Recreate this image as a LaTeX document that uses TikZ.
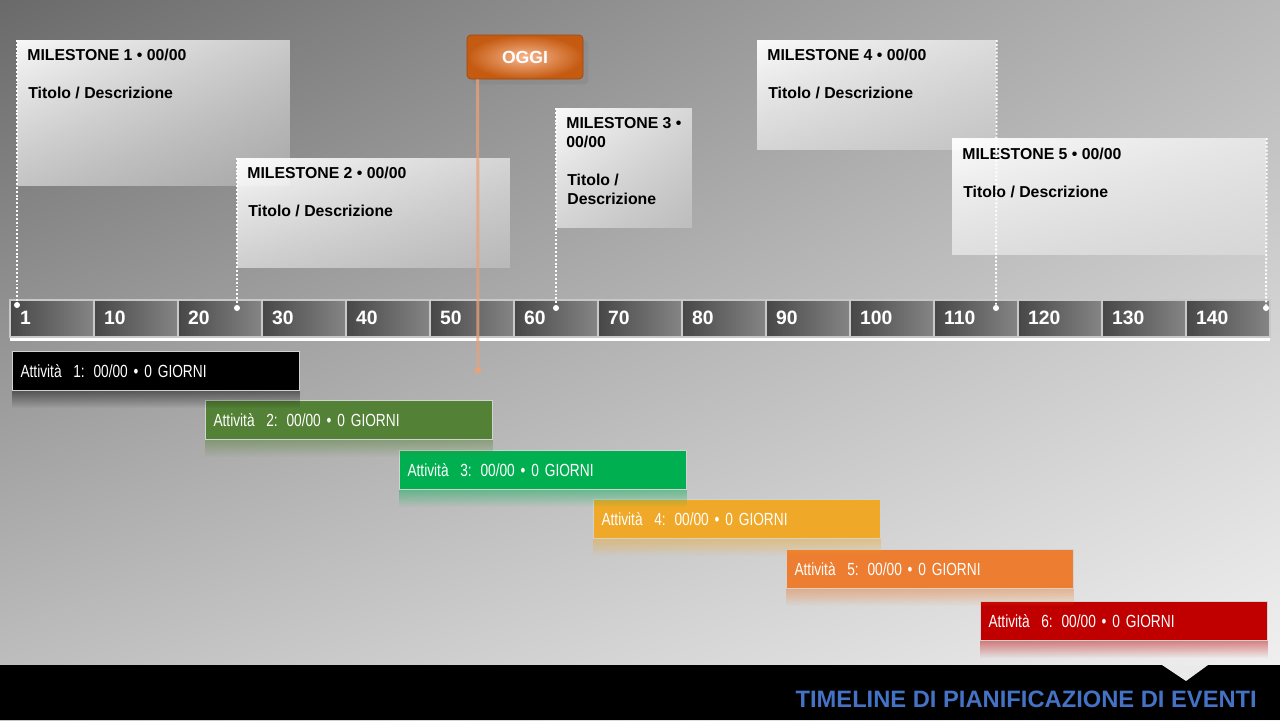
\documentclass[tikz,border=0pt]{standalone}
\usepackage{fontspec}
\setmainfont{Liberation Sans}
\newfontfamily\narrowfont[FakeStretch=0.78, WordSpace=0.5]{Liberation Sans}
\usetikzlibrary{shadows}
\usetikzlibrary{shadings}
\usetikzlibrary{fadings}
\usetikzlibrary{shapes.geometric}
\newcommand{\px}{0.02cm}
\definecolor{bgul}{HTML}{6A6A6A}
\definecolor{bgur}{HTML}{B8B8B8}
\definecolor{bgll}{HTML}{C4C4C4}
\definecolor{bglr}{HTML}{F4F4F4}
\definecolor{cellL}{HTML}{474747}
\definecolor{cellR}{HTML}{858585}
\definecolor{cellB}{HTML}{C8C8C8}
\definecolor{oggiIn}{HTML}{F7B68E}
\definecolor{oggiOut}{HTML}{C55A11}
\definecolor{oggiLine}{HTML}{E9A27A}
\definecolor{actblack}{HTML}{000000}
\definecolor{actgreen}{HTML}{538135}
\definecolor{actlime}{HTML}{00B050}
\definecolor{actamber}{HTML}{F0A828}
\definecolor{actorange}{HTML}{ED7D31}
\definecolor{actred}{HTML}{C00000}
\definecolor{titleblue}{HTML}{4472C4}
\tikzfading[name=milefade, upper left=transparent!8, upper right=transparent!45,
  lower left=transparent!50, lower right=transparent!82]
\tikzset{
  milebox/.style={anchor=north west, inner sep=0, fill=white, path fading=milefade},
  mhead/.style={anchor=west, inner sep=0, font=\bfseries\fontsize{9}{11}\selectfont},
  mline/.style={white, line width=1.1pt, dash pattern=on 1.1pt off 1.1pt},
  mdot/.style={circle, fill=white, inner sep=0, minimum size=6*\px},
  celltext/.style={anchor=west, text=white, font=\bfseries\fontsize{11}{13}\selectfont},
  actbar/.style={anchor=north west, draw=gray!35, line width=0.6pt, text=white,
    text width=271*\px, inner xsep=8*\px, minimum height=39*\px, align=left,
    font=\narrowfont\fontsize{10}{12}\selectfont},
  reflect/.style={path fading=south, fill opacity=0.45}
}
\begin{document}
\begin{tikzpicture}[x=0.02cm,y=-0.02cm]
\useasboundingbox (0,0) rectangle (1280,720);
% background
\shade[upper left=bgul, upper right=bgur, lower left=bgll, lower right=bglr] (0,0) rectangle (1280,720);

% milestones
\node[milebox, minimum width=273*\px, minimum height=146*\px] (m1) at (17,40) {};
\node[milebox, minimum width=273*\px, minimum height=110*\px] (m2) at (237,158) {};
\node[milebox, minimum width=136*\px, minimum height=120*\px] (m3) at (556,108) {};
\node[milebox, minimum width=239*\px, minimum height=110*\px] (m4) at (757,40) {};
\node[milebox, minimum width=314*\px, minimum height=117*\px] (m5) at (952,138) {};

\node[mhead] (m1h) at (27,55) {MILESTONE 1 • 00/00};
\node[mhead] (m1t) at (28,93) {Titolo / Descrizione};
\node[mhead] (m2h) at (247,173) {MILESTONE 2 • 00/00};
\node[mhead] (m2t) at (248,211) {Titolo / Descrizione};
\node[mhead] (m3h) at (566,123) {MILESTONE 3 •};
\node[mhead] (m3d) at (566,142) {00/00};
\node[mhead] (m3t) at (567,180) {Titolo /};
\node[mhead] (m3s) at (567,199) {Descrizione};
\node[mhead] (m4h) at (767,55) {MILESTONE 4 • 00/00};
\node[mhead] (m4t) at (768,93) {Titolo / Descrizione};
\node[mhead] (m5h) at (962,154) {MILESTONE 5 • 00/00};
\node[mhead] (m5t) at (963,192) {Titolo / Descrizione};

% timeline
\foreach \lab [count=\i from 0] in {1,10,20,30,40,50,60,70,80,90,100,110,120,130,140}{
  \shade[left color=cellL, right color=cellR, draw=cellB, line width=0.6pt] (10+84*\i,300) rectangle (94+84*\i,337);
  \node[celltext] (c\i) at (14+84*\i,318) {\lab};
}
\fill[white] (10,338) rectangle (1270,341);

% milestone connectors
\node[mdot] (d1) at (17,305) {};
\node[mdot] (d2) at (237,308) {};
\node[mdot] (d3) at (556,308) {};
\node[mdot] (d4) at (996,308) {};
\node[mdot] (d5) at (1266,308) {};
\draw[mline] (m1.north west) -- (d1);
\draw[mline] (m2.north west) -- (d2);
\draw[mline] (m3.north west) -- (d3);
\draw[mline] (m4.north east) -- (d4);
\draw[mline] (m5.north east) -- (d5);

% today
\node[rounded corners=4*\px, minimum width=116*\px, minimum height=44*\px, inner color=oggiIn, outer color=oggiOut,
  draw=oggiOut!80!black, drop shadow={shadow xshift=3pt, shadow yshift=-3pt, opacity=0.35},
  text=white, font=\bfseries\fontsize{10}{12}\selectfont] (oggi) at (525,57) {OGGI};
\node[diamond, fill=oggiLine, inner sep=0, minimum size=8*\px] (oggitip) at (478,370) {};
\draw[oggiLine, line width=1.7pt, opacity=0.75] ([shift={(11,0)}]oggi.south west) -- (oggitip.north);

% activities
\node[actbar, fill=actblack] (a1) at (12,351) {Attività\ \ 1: 00/00 • 0 GIORNI};
\node[actbar, fill=actgreen] (a2) at (205,400) {Attività\ \ 2: 00/00 • 0 GIORNI};
\node[actbar, fill=actlime] (a3) at (399,450) {Attività\ \ 3: 00/00 • 0 GIORNI};
\node[actbar, fill=actamber] (a4) at (593,499) {Attività\ \ 4: 00/00 • 0 GIORNI};
\node[actbar, fill=actorange] (a5) at (786,549) {Attività\ \ 5: 00/00 • 0 GIORNI};
\node[actbar, fill=actred] (a6) at (980,601) {Attività\ \ 6: 00/00 • 0 GIORNI};
\fill[actblack, reflect] (a1.south west) rectangle ([shift={(0,17)}]a1.south east);
\fill[actgreen, reflect] (a2.south west) rectangle ([shift={(0,17)}]a2.south east);
\fill[actlime, reflect] (a3.south west) rectangle ([shift={(0,17)}]a3.south east);
\fill[actamber, reflect] (a4.south west) rectangle ([shift={(0,17)}]a4.south east);
\fill[actorange, reflect] (a5.south west) rectangle ([shift={(0,17)}]a5.south east);
\fill[actred, reflect] (a6.south west) rectangle ([shift={(0,17)}]a6.south east);

% footer
\fill[black] (0,665) rectangle (1280,720);
\fill[bglr!96!black] (1162,665) -- (1208,665) -- (1186,681) -- cycle;
\node[anchor=east, text=titleblue, font=\bfseries\fontsize{13.5}{16}\selectfont] (title) at (1263,699) {TIMELINE DI PIANIFICAZIONE DI EVENTI};
\end{tikzpicture}
\end{document}
